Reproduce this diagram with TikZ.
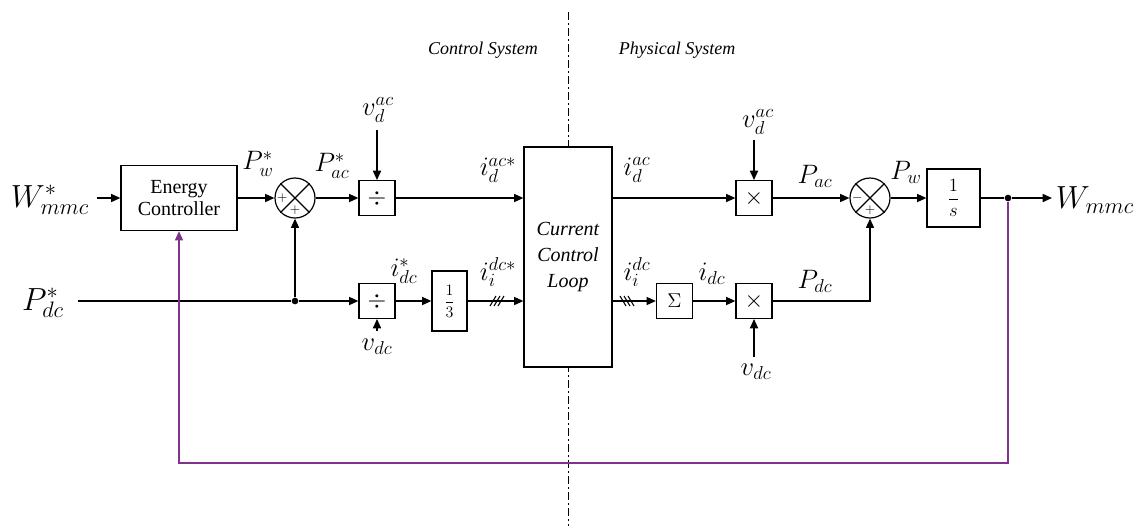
\RequirePackage{fix-cm}
\documentclass[tikz,border=0pt]{standalone}
\usepackage{fontspec}
\setmainfont{Liberation Serif}
\newfontfamily\tnr{Liberation Serif}
\usetikzlibrary{arrows.meta,calc}
\definecolor{fbpurple}{RGB}{128,50,140}
\begin{document}
\begin{tikzpicture}[x=0.75pt,y=-0.75pt,
  blk/.style={draw,line width=0.9pt,inner sep=0pt,minimum width=27pt,minimum height=26pt,font=\fontsize{18}{20}\selectfont},
  sumc/.style={draw,circle,line width=0.9pt,minimum size=30pt,inner sep=0pt},
  sig/.style={line width=1.2pt,-{Triangle[length=7pt,width=6pt]}},
  wire/.style={line width=1.2pt},
  fb/.style={line width=1.2pt,draw=fbpurple,-{Triangle[length=7pt,width=6pt,fill=fbpurple]}},
  lbl/.style={inner sep=0pt,font=\fontsize{20}{24}\selectfont},
  big/.style={inner sep=0pt,font=\fontsize{24}{28}\selectfont},
  sgn/.style={inner sep=0pt,font=\fontsize{10}{11}\selectfont},
  ttl/.style={inner sep=0pt,font=\tnr\fontsize{13.5}{15}\selectfont\itshape},
  hatch/.style={line width=0.8pt},
  dot/.style={circle,fill,inner sep=0pt,minimum size=5pt}
]
\useasboundingbox (0,0) rectangle (1142,526);

% divider
\draw[line width=0.7pt,dash pattern=on 6pt off 2.5pt on 1pt off 2.5pt] (568,12) -- (568,526);
\node[ttl] (tc) at (483,50) {Control System};
\node[ttl] (tp) at (677,50) {Physical System};

% blocks
\node[blk,fill=white,minimum width=66pt,minimum height=165pt,align=center,
      font=\tnr\fontsize{15}{19.5}\selectfont\itshape] (ccl) at (568,257) {Current\\Control\\Loop};
\node[blk,minimum width=87pt,minimum height=48.75pt,align=center,
      font=\tnr\fontsize{15}{17}\selectfont] (ec) at (179,198) {Energy\\Controller};
\node[sumc] (s1) at (295,198) {};
\node[blk] (div1) at (377,198) {$\div$};
\node[blk] (div2) at (377,301) {$\div$};
\node[blk,minimum width=26.25pt,minimum height=45pt,font=\fontsize{12}{14}\selectfont] (third) at (449.5,301) {$\displaystyle\frac{1}{3}$};
\node[blk] (mul1) at (754,198) {$\times$};
\node[blk,font=\fontsize{15}{17}\selectfont] (sigma) at (674.5,301) {$\Sigma$};
\node[blk] (mul2) at (754,301) {$\times$};
\node[sumc] (s2) at (870,198) {};
\node[blk,minimum width=39.75pt,minimum height=43.5pt,font=\fontsize{14}{16}\selectfont] (int) at (953.5,198) {$\displaystyle\frac{1}{s}$};

% summing junction details
\draw[line width=0.9pt] (s1.north west) -- (s1.south east) (s1.north east) -- (s1.south west);
\draw[line width=0.9pt] (s2.north west) -- (s2.south east) (s2.north east) -- (s2.south west);
\node[sgn] (s1a) at ([xshift=-9.5pt]s1.center) {$+$};
\node[sgn] (s1b) at ([yshift=-9pt]s1.center) {$+$};
\node[sgn] (s2a) at ([xshift=-9.5pt]s2.center) {$-$};
\node[sgn] (s2b) at ([yshift=-9pt]s2.center) {$+$};

% coordinates
\coordinate (in1) at (97,198);
\coordinate (in2) at (78,301);
\node[dot] (j1) at (295,301) {};
\node[dot] (j2) at (1008,198) {};
\coordinate (out) at (1052,198);
\coordinate (vda) at (377,130);
\coordinate (vdb) at (377,331);
\coordinate (vdc) at (754,140);
\coordinate (vdd) at (754,357);
\coordinate (fbl) at (179,463);
\coordinate (fbr) at (1008,463);

% labels
\node[big] (lw) at (50,200) {$W_{mmc}^{*}$};
\node[big] (lp) at (43,303) {$P_{dc}^{*}$};
\node[big] (lwo) at (1095,200) {$W_{mmc}$};
\node[lbl] (lpw) at (258,164) {$P_{w}^{*}$};
\node[lbl] (lpac) at (332,166) {$P_{ac}^{*}$};
\node[lbl] (lv1) at (378,110) {$v_{d}^{ac}$};
\node[lbl] (lv2) at (377,347) {$v_{dc}$};
\node[lbl] (lidc) at (404,271) {$i_{dc}^{*}$};
\node[lbl] (liac) at (498,170) {$i_{d}^{ac*}$};
\node[lbl] (lidcs) at (498,272) {$i_{i}^{dc*}$};
\node[lbl] (liacr) at (637,170) {$i_{d}^{ac}$};
\node[lbl] (lidcr) at (637,272) {$i_{i}^{dc}$};
\node[lbl] (lidc2) at (712,274) {$i_{dc}$};
\node[lbl] (lv3) at (758,122) {$v_{d}^{ac}$};
\node[lbl] (lv4) at (756,372) {$v_{dc}$};
\node[lbl] (lpac2) at (815,176) {$P_{ac}$};
\node[lbl] (lpdc2) at (815,281) {$P_{dc}$};
\node[lbl] (lpw2) at (906,172) {$P_{w}$};

% connectors
\draw[sig] (in1) -- (ec);
\draw[sig] (ec) -- (s1);
\draw[sig] (s1) -- (div1);
\draw[sig] (div1) -- (div1 -| ccl.west);
\draw[wire] (in2) -- (j1);
\draw[sig] (j1) -- (div2);
\draw[sig] (j1) -- (s1);
\draw[sig] (vda) -- (div1);
\draw[sig] (vdb) -- (div2);
\draw[sig] (div2) -- (third);
\draw[sig] (third) -- (third -| ccl.west);
\draw[sig] (ccl.east |- mul1) -- (mul1);
\draw[sig] (ccl.east |- sigma) -- (sigma);
\draw[sig] (sigma) -- (mul2);
\draw[sig] (vdc) -- (mul1);
\draw[sig] (vdd) -- (mul2);
\draw[sig] (mul1) -- (s2);
\draw[sig] (mul2) -| (s2);
\draw[sig] (s2) -- (int);
\draw[wire] (int) -- (j2);
\draw[sig] (j2) -- (out);
\draw[fb] (j2) -- (fbr) -- (fbl) -- (ec);

% hatch marks
\foreach \hx in {493,497,501} \draw[hatch] (\hx-3,306) -- (\hx+3,296);
\foreach \hx in {623,627,631} \draw[hatch] (\hx-3,296) -- (\hx+3,306);
\end{tikzpicture}
\end{document}
